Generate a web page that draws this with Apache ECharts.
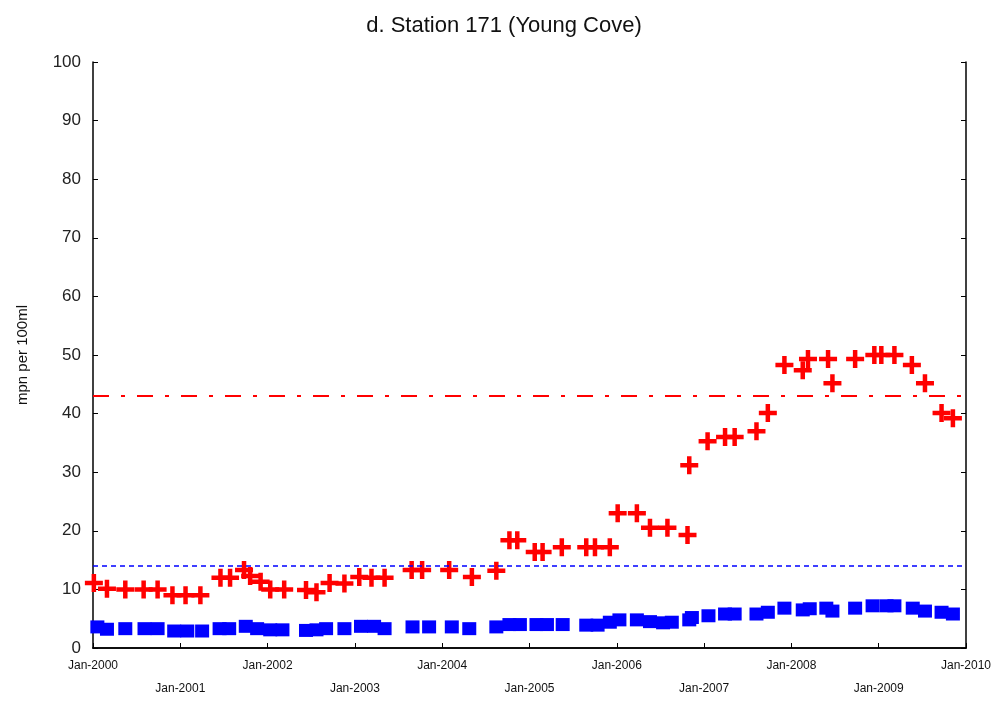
<!DOCTYPE html>
<html>
<head>
<meta charset="utf-8">
<script src="https://cdn.jsdelivr.net/npm/echarts@6/dist/echarts.min.js"></script>
<style>html,body{margin:0;padding:0;background:#fff}#c{width:1008px;height:707px}</style>
</head>
<body>
<div id="c"></div>
<script>
const titleText = 'd. Station 171 (Young Cove)';
const yAxisName = 'mpn per 100ml';
const xTickYears = [2000, 2001, 2002, 2003, 2004, 2005, 2006, 2007, 2008, 2009, 2010];
const yTicks = [0, 10, 20, 30, 40, 50, 60, 70, 80, 90, 100];

// red crosses (decimal year, value)
const redDates = [2000.01, 2000.16, 2000.37, 2000.58, 2000.74, 2000.91, 2001.06, 2001.23, 2001.46, 2001.57,
  2001.73, 2001.80, 2001.92, 2002.03, 2002.19, 2002.44, 2002.56, 2002.71, 2002.88, 2003.05,
  2003.19, 2003.34, 2003.65, 2003.77, 2004.08, 2004.34, 2004.62, 2004.77, 2004.86, 2005.06,
  2005.15, 2005.37, 2005.65, 2005.75, 2005.92, 2006.01, 2006.23, 2006.38, 2006.58, 2006.81,
  2006.83, 2007.04, 2007.24, 2007.35, 2007.60, 2007.73, 2007.92, 2008.13, 2008.19, 2008.42,
  2008.47, 2008.73, 2008.95, 2009.03, 2009.18, 2009.38, 2009.53, 2009.72, 2009.85];
const redValues = [11.1, 10.1, 10, 10, 10, 9, 9, 9, 12, 12,
  13.3, 12.3, 11.3, 10, 10, 9.9, 9.5, 11.1, 11, 12.1,
  12, 12, 13.3, 13.3, 13.3, 12.1, 13.2, 18.4, 18.4, 16.4,
  16.4, 17.2, 17.2, 17.2, 17.2, 23, 23, 20.5, 20.5, 19.3,
  31.2, 35.3, 36, 36, 37, 40.1, 48.3, 47.4, 49.3, 49.3,
  45.2, 49.3, 50, 50, 50, 48.3, 45.2, 40.1, 39.2];

// blue squares (decimal year, value)
const blueDates = [2000.05, 2000.16, 2000.37, 2000.59, 2000.74, 2000.93, 2001.08, 2001.25, 2001.45, 2001.56,
  2001.75, 2001.88, 2002.03, 2002.17, 2002.44, 2002.56, 2002.67, 2002.88, 2003.07, 2003.22,
  2003.34, 2003.66, 2003.85, 2004.11, 2004.31, 2004.62, 2004.77, 2004.89, 2005.08, 2005.20,
  2005.38, 2005.65, 2005.78, 2005.92, 2006.03, 2006.23, 2006.38, 2006.53, 2006.63, 2006.83,
  2006.86, 2007.05, 2007.24, 2007.35, 2007.60, 2007.73, 2007.92, 2008.13, 2008.21, 2008.40,
  2008.47, 2008.73, 2008.93, 2009.09, 2009.18, 2009.39, 2009.53, 2009.72, 2009.85];
const blueValues = [3.6, 3.2, 3.3, 3.3, 3.3, 2.9, 2.9, 2.9, 3.3, 3.3,
  3.7, 3.3, 3.1, 3.1, 3.0, 3.1, 3.3, 3.3, 3.7, 3.7,
  3.3, 3.6, 3.6, 3.6, 3.3, 3.6, 4.0, 4.0, 4.0, 4.0,
  4.0, 3.9, 3.9, 4.4, 4.8, 4.8, 4.5, 4.3, 4.4, 4.8,
  5.2, 5.5, 5.8, 5.8, 5.8, 6.1, 6.8, 6.5, 6.7, 6.8,
  6.3, 6.8, 7.2, 7.2, 7.2, 6.8, 6.3, 6.1, 5.8];

const redRefLine = 43;
const blueRefLine = 14;

const crossPath = 'path://M0,6L16,6L16,10L0,10Z M6,0L10,0L10,16L6,16Z';

const chart = echarts.init(document.getElementById('c'), null, {renderer: 'canvas'});
const axisLine = {show: true, lineStyle: {color: '#000', width: 1.5}};
const option = {
  backgroundColor: '#fff',
  animation: false,
  title: {
    text: titleText, left: 'center', top: 10,
    textStyle: {fontFamily: 'Liberation Sans, Arial, sans-serif', fontWeight: 'normal', fontSize: 22, color: '#111'}
  },
  grid: {left: 93, right: 42, top: 62, bottom: 59, show: false},
  xAxis: [{
    type: 'value', min: xTickYears[0], max: xTickYears[xTickYears.length - 1], interval: 1,
    position: 'bottom',
    axisLine: axisLine,
    axisTick: {show: true, inside: true, length: 5, lineStyle: {color: '#000'}},
    splitLine: {show: false},
    axisLabel: {
      showMinLabel: true, showMaxLabel: true, margin: 6,
      fontFamily: 'Liberation Sans Narrow, Arial Narrow, sans-serif', fontSize: 12, color: '#111',
      lineHeight: 23,
      formatter: v => (v % 2 === 0 ? 'Jan-' + v : '\nJan-' + v)
    }
  }, {
    type: 'value', min: xTickYears[0], max: xTickYears[xTickYears.length - 1], interval: 1,
    position: 'top',
    axisLine: axisLine,
    axisTick: {show: false},
    splitLine: {show: false},
    axisLabel: {show: false}
  }],
  yAxis: [{
    type: 'value', min: yTicks[0], max: yTicks[yTicks.length - 1], interval: 10,
    position: 'left',
    name: yAxisName, nameLocation: 'middle', nameGap: 63, nameRotate: 90,
    nameTextStyle: {fontFamily: 'Liberation Sans, Arial, sans-serif', fontSize: 15, color: '#111'},
    axisLine: axisLine,
    axisTick: {show: true, inside: true, length: 5, lineStyle: {color: '#000'}},
    splitLine: {show: false},
    axisLabel: {fontFamily: 'Liberation Sans, Arial, sans-serif', fontSize: 17, color: '#222', margin: 12}
  }, {
    type: 'value', min: yTicks[0], max: yTicks[yTicks.length - 1], interval: 10,
    position: 'right',
    axisLine: axisLine,
    axisTick: {show: true, inside: true, length: 5, lineStyle: {color: '#000'}},
    splitLine: {show: false},
    axisLabel: {show: false}
  }],
  series: [{
    type: 'scatter', name: 'blue', z: 2,
    symbol: 'rect', symbolSize: [14, 13],
    itemStyle: {color: '#0000ff', opacity: 1},
    data: blueDates.map((d, i) => [d, blueValues[i]]),
    markLine: {
      silent: true, symbol: 'none', label: {show: false},
      lineStyle: {color: '#0000ff', width: 1.5, type: [5, 4]},
      data: [{yAxis: blueRefLine}]
    }
  }, {
    type: 'scatter', name: 'red', z: 3,
    symbol: crossPath, symbolSize: [18, 18],
    itemStyle: {color: '#ff0000', opacity: 1},
    data: redDates.map((d, i) => [d, redValues[i]]),
    markLine: {
      silent: true, symbol: 'none', label: {show: false},
      lineStyle: {color: '#ff0000', width: 2, type: [16, 12, 4, 12]},
      data: [{yAxis: redRefLine}]
    }
  }]
};
chart.setOption(option);
</script>
</body>
</html>
